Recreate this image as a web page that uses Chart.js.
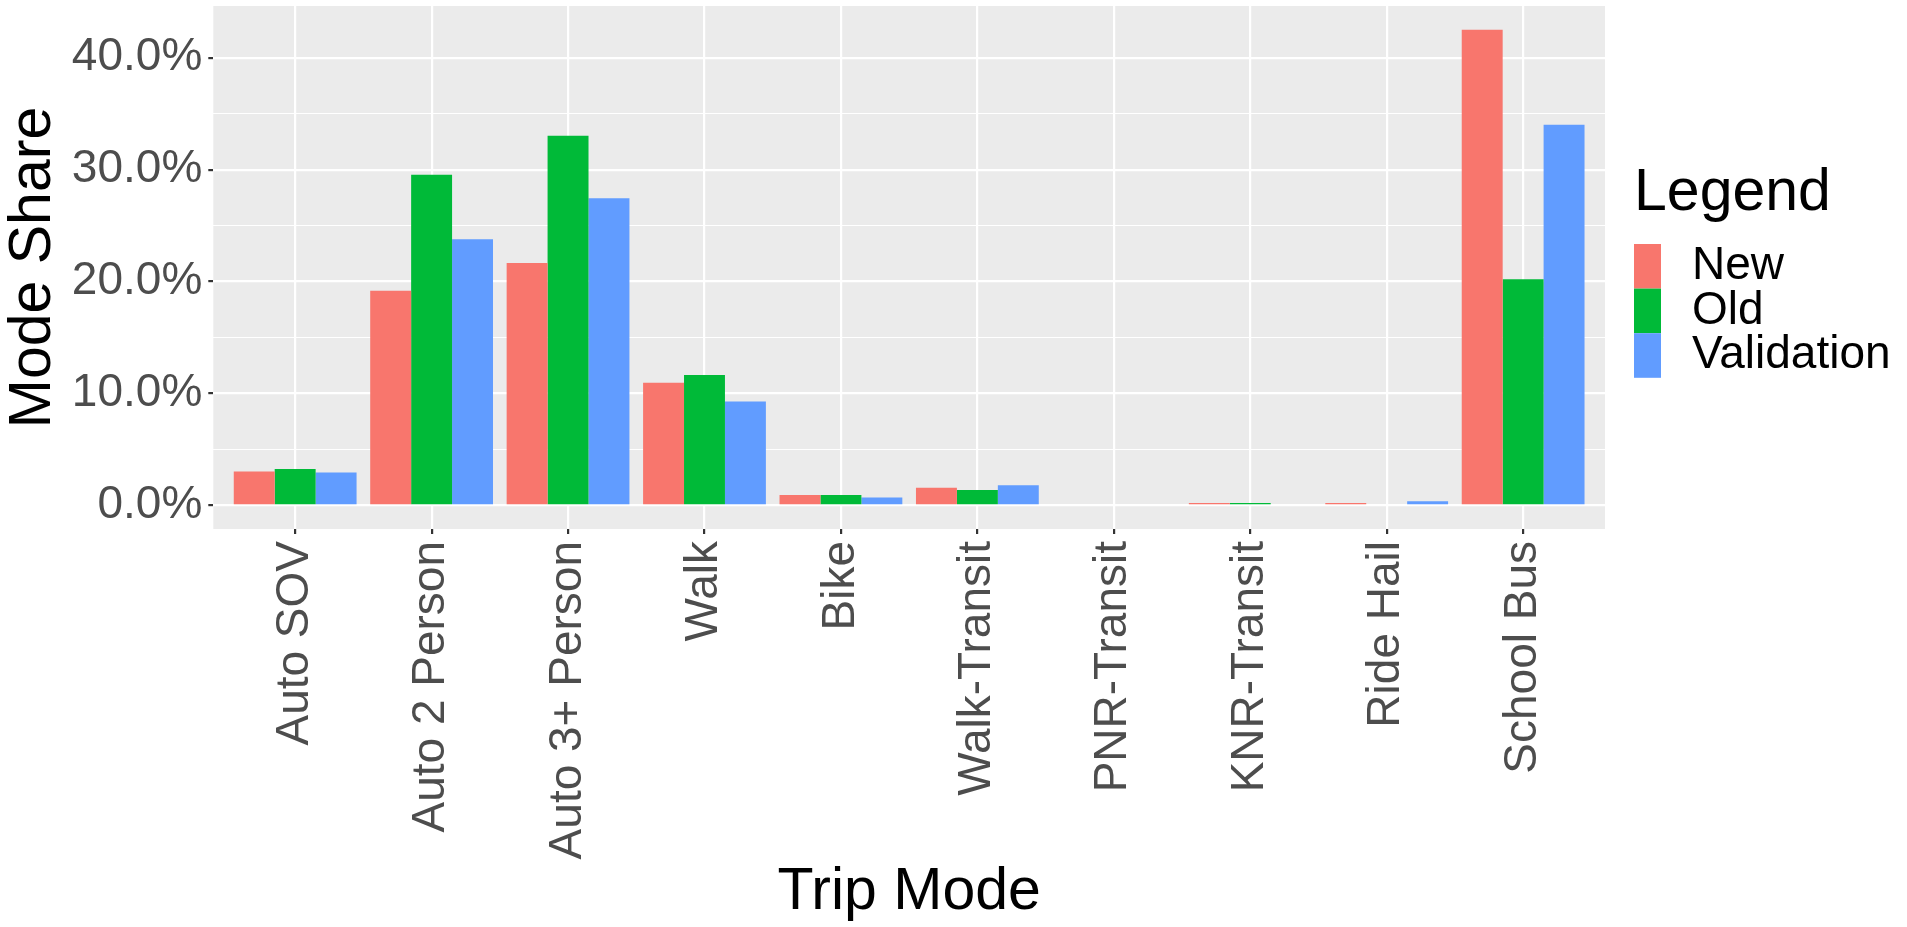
<!DOCTYPE html>
<html>
<head>
<meta charset="utf-8">
<script src="https://cdn.jsdelivr.net/npm/chart.js@4"></script>
<style>
  body { margin: 0; background: #fff; }
</style>
</head>
<body>
<canvas id="modeChart" width="1907" height="927"></canvas>
<script>
/*** data */
const modes = ['Auto SOV', 'Auto 2 Person', 'Auto 3+ Person', 'Walk', 'Bike', 'Walk-Transit', 'PNR-Transit', 'KNR-Transit', 'Ride Hail', 'School Bus'];
const shareNew = [3.02, 19.18, 21.66, 10.94, 0.91, 1.57, 0.0, 0.21, 0.21, 42.5];
const shareOld = [3.23, 29.55, 33.02, 11.63, 0.91, 1.36, 0.0, 0.2, 0.09, 20.21];
const shareValidation = [2.93, 23.78, 27.43, 9.27, 0.69, 1.78, 0.0, 0.09, 0.36, 34.02];
const yTicks = [0, 5, 10, 15, 20, 25, 30, 35, 40];

const FONT = '"Liberation Sans", Arial, sans-serif';

// ggplot grey panel under everything
const panelBg = {
  id: 'panelBg',
  beforeDraw(chart) {
    const a = chart.chartArea;
    const c = chart.ctx;
    c.save();
    c.fillStyle = '#EBEBEB';
    c.fillRect(a.left, a.top, a.right - a.left, a.bottom - a.top);
    c.restore();
  }
};

// legend on the right, ggplot style
const sideLegend = {
  id: 'sideLegend',
  afterDraw(chart) {
    const c = chart.ctx;
    const x = chart.chartArea.right + 29;
    c.save();
    c.fillStyle = '#000';
    c.font = '59px ' + FONT;
    c.textBaseline = 'alphabetic';
    c.fillText('Legend', x, 210);
    chart.data.datasets.forEach((ds, i) => {
      const top = 244 + i * 44.6;
      c.fillStyle = ds.backgroundColor;
      c.fillRect(x, top, 27, 44.6);
      c.fillStyle = '#000';
      c.font = '46px ' + FONT;
      c.textBaseline = 'middle';
      c.fillText(ds.label, x + 58, top + 22.3);
    });
    c.restore();
  }
};

const toPoints = arr => arr.map((v, i) => ({ x: i + 1, y: v }));

const ctx = document.getElementById('modeChart').getContext('2d');
const chart = new Chart(ctx, {
  type: 'bar',
  data: {
    datasets: [
      { label: 'New', data: toPoints(shareNew), backgroundColor: '#F8766D' },
      { label: 'Old', data: toPoints(shareOld), backgroundColor: '#00BA38' },
      { label: 'Validation', data: toPoints(shareValidation), backgroundColor: '#619CFF' }
    ]
  },
  options: {
    responsive: false,
    animation: false,
    categoryPercentage: 0.9,
    barPercentage: 1.0,
    borderWidth: 0,
    layout: { padding: { top: 6, right: 302, left: 0, bottom: 0 } },
    plugins: {
      legend: { display: false },
      tooltip: { enabled: false }
    },
    scales: {
      x: {
        type: 'linear',
        min: 0.4,
        max: 10.6,
        offset: false,
        afterBuildTicks: s => { s.ticks = modes.map((m, i) => ({ value: i + 1 })); },
        afterFit: s => { s.height = 398; s.paddingLeft = 0; s.paddingRight = 0; },
        border: { display: false },
        grid: { offset: false, color: '#FFFFFF', lineWidth: 2.2, tickColor: '#333333', tickLength: 5 },
        ticks: {
          autoSkip: false,
          minRotation: 90,
          maxRotation: 90,
          padding: 7,
          color: '#4D4D4D',
          font: { family: FONT, size: 46 },
          callback: v => modes[v - 1]
        },
        title: {
          display: true,
          text: 'Trip Mode',
          color: '#000',
          padding: 0,
          font: { family: FONT, size: 59, lineHeight: 1.15 }
        }
      },
      y: {
        min: -2.125,
        max: 44.625,
        afterBuildTicks: s => { s.ticks = yTicks.map(v => ({ value: v })); },
        afterFit: s => { s.width = 213.3; s.paddingTop = 0; s.paddingBottom = 0; },
        border: { display: false },
        grid: {
          color: '#FFFFFF',
          lineWidth: c => (c.tick && c.tick.value % 10 === 0 ? 2.2 : 1.1),
          tickColor: c => (c.tick && c.tick.value % 10 === 0 ? '#333333' : 'rgba(0,0,0,0)'),
          tickLength: 5
        },
        ticks: {
          autoSkip: false,
          padding: 6,
          color: '#4D4D4D',
          font: { family: FONT, size: 46 },
          callback: v => (v % 10 === 0 ? v.toFixed(1) + '%' : '')
        },
        title: {
          display: true,
          text: 'Mode Share',
          color: '#000',
          padding: 0,
          font: { family: FONT, size: 59, lineHeight: 1.15 }
        }
      }
    }
  },
  plugins: [panelBg, sideLegend]
});
</script>
</body>
</html>
